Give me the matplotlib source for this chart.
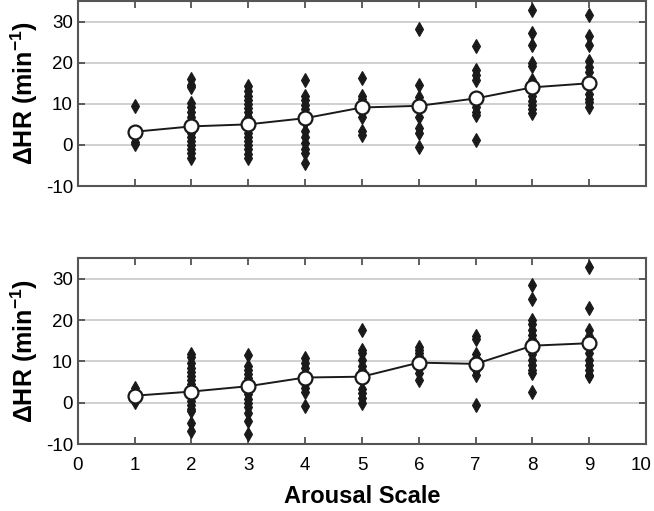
import numpy as np
import matplotlib
matplotlib.use('Agg')
import matplotlib.pyplot as plt
import matplotlib.transforms as mtransforms

plt.rcParams['font.family'] = ['Liberation Sans', 'DejaVu Sans']
plt.rcParams['axes.unicode_minus'] = False
plt.rcParams['mathtext.fontset'] = 'custom'
plt.rcParams['mathtext.rm'] = 'Liberation Sans'
plt.rcParams['mathtext.bf'] = 'Liberation Sans:bold'

# Arousal scale levels
levels = [1, 2, 3, 4, 5, 6, 7, 8, 9]

# Top panel: individual delta HR values per arousal level
top_points = [
    [9.5, 0.8, 0.2],
    [16.0, 14.5, 14.0, 10.2, 9.3, 8.0, 6.8, 5.5, 4.2, 3.0, 2.0, 1.0, 0.0, -1.0, -2.0, -3.2],
    [14.3, 13.2, 12.0, 11.0, 10.0, 9.0, 8.0, 6.8, 5.5, 4.3, 3.0, 2.0, 1.0, 0.0, -1.0, -2.2, -3.3],
    [15.7, 12.0, 11.0, 9.8, 8.8, 7.5, 5.5, 3.5, 2.0, 0.5, -1.0, -2.0, -4.5],
    [16.3, 12.0, 11.2, 10.0, 8.0, 6.8, 3.3, 2.5],
    [28.1, 14.5, 11.7, 10.4, 6.8, 4.0, 2.8, -0.5],
    [24.0, 18.1, 16.9, 15.7, 10.8, 9.2, 8.0, 7.2, 1.1],
    [32.7, 27.3, 24.4, 19.9, 19.3, 15.7, 12.0, 10.8, 9.6, 8.8, 7.8],
    [31.5, 26.5, 24.2, 20.5, 19.0, 17.7, 12.5, 11.2, 10.4, 9.2],
]
top_means = [3.2, 4.5, 5.0, 6.5, 9.1, 9.5, 11.3, 14.0, 15.0]

# Bottom panel
bottom_points = [
    [3.5, 2.5, 0.2],
    [11.8, 11.0, 9.5, 8.5, 7.5, 6.5, 5.5, 4.5, 3.5, 2.5, 1.5, 0.5, -0.5, -1.5, -2.0, -5.0, -6.8],
    [11.5, 9.0, 8.0, 7.0, 6.0, 5.0, 4.0, 3.0, 2.0, 1.0, 0.0, -1.0, -2.5, -4.5, -7.5],
    [10.8, 9.5, 8.5, 7.0, 6.0, 4.5, 3.5, 2.5, -0.8],
    [17.5, 12.8, 12.0, 10.4, 8.8, 8.0, 3.2, 2.4, 1.1, 0.0],
    [13.6, 12.8, 12.0, 11.2, 10.0, 8.4, 7.2, 5.6],
    [16.1, 15.3, 11.7, 10.8, 8.0, 6.8, -0.6],
    [28.6, 25.0, 20.0, 19.0, 17.7, 16.5, 15.3, 11.7, 10.4, 9.2, 8.0, 7.2, 2.7],
    [32.9, 23.0, 17.6, 16.1, 12.1, 10.4, 9.2, 8.0, 6.8, 6.4],
]
bottom_means = [1.7, 2.7, 4.0, 6.1, 6.3, 9.7, 9.4, 13.8, 14.4]

fig = plt.figure(figsize=(6.54, 5.11), dpi=100)
ax_top = fig.add_axes([0.119, 0.636, 0.869, 0.362])
ax_bot = fig.add_axes([0.119, 0.131, 0.869, 0.364])


def draw_panel(ax, points, means, show_xlabels):
    for lvl, vals in zip(levels, points):
        ax.plot([lvl] * len(vals), vals, linestyle='none', marker='d',
                markersize=7, markeredgewidth=0.8, color='#1a1a1a', zorder=3)
    ax.plot(levels, means, color='#1a1a1a', linewidth=1.4, zorder=4,
            marker='o', markersize=10, markerfacecolor='white',
            markeredgecolor='#1a1a1a', markeredgewidth=1.6)
    ax.set_xlim(0, 10)
    ax.set_ylim(-10, 35)
    ax.set_yticks([-10, 0, 10, 20, 30])
    ax.set_xticks(range(0, 11))
    for y in [0, 10, 20, 30]:
        ax.axhline(y, color='#c8c8c8', linewidth=1.2, zorder=1)
    ax.tick_params(direction='in', top=True, right=True, length=5,
                   width=1.2, color='#444444', labelsize=13.5)
    ax.tick_params(axis='x', pad=9)
    if not show_xlabels:
        ax.tick_params(labelbottom=False)
    for s in ax.spines.values():
        s.set_color('#555555')
        s.set_linewidth(1.5)
    ax.set_ylabel(r'ΔHR (min$^{\mathbf{-1}}$)', fontsize=18, fontweight='bold',
                  labelpad=4)


draw_panel(ax_top, top_points, top_means, False)
draw_panel(ax_bot, bottom_points, bottom_means, True)
ax_bot.set_xlabel('Arousal Scale', fontsize=17, fontweight='bold', labelpad=8)

# keep the last x label inside the figure
last = ax_bot.get_xticklabels()[-1]
last.set_transform(last.get_transform() +
                   mtransforms.ScaledTranslation(-4 / 72, 0, fig.dpi_scale_trans))

fig.savefig('out.png', dpi=100)
